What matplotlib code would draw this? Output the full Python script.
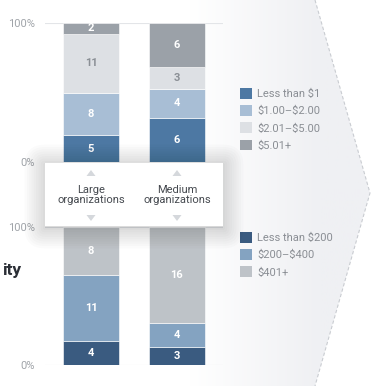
import numpy as np
import matplotlib
matplotlib.use("Agg")
import matplotlib.pyplot as plt
from matplotlib.patches import Polygon, Rectangle, FancyBboxPatch

plt.rcParams['font.family'] = ['Roboto', 'DejaVu Sans']

# data (counts per bar, drawn as 100% stacks)
groups = ['Large\norganizations', 'Medium\norganizations']
price_labels = ['Less than \\$1', '\\$1.00\u2013\\$2.00', '\\$2.01\u2013\\$5.00', '\\$5.01+']
price_large = [5, 8, 11, 2]
price_medium = [6, 4, 3, 6]
cost_labels = ['Less than \\$200', '\\$200\u2013\\$400', '\\$401+']
cost_large = [4, 11, 8]
cost_medium = [3, 4, 16]

price_colors = ['#4d78a3', '#a8bed5', '#dde0e4', '#9ba1a8']
price_text = ['white', 'white', '#8b9096', 'white']
cost_colors = ['#3a5b80', '#84a3c1', '#bec3c8']
cost_text = ['white', 'white', 'white']

W, H = 371, 386
fig = plt.figure(figsize=(W / 100, H / 100), dpi=100)
fig.patch.set_facecolor('white')

# background layer: chevron panel with gradient
bg = fig.add_axes([0, 0, 1, 1], zorder=0)
bg.set_xlim(0, W)
bg.set_ylim(H, 0)
bg.axis('off')
chev = Polygon([(150, 0), (315, 0), (370, 193), (315, 386), (150, 386)],
               closed=True, facecolor='none', edgecolor='none')
bg.add_patch(chev)
xs = np.linspace(150, 371, 200)
t = np.clip((xs - 190) / 130, 0, 1)
c0 = np.array([1.0, 1.0, 1.0])
c1 = np.array([0xef, 0xf0, 0xf3]) / 255
grad = (c0[None, :] * (1 - t[:, None]) + c1[None, :] * t[:, None])[None, :, :]
im = bg.imshow(grad, extent=[150, 371, H, 0], aspect='auto', zorder=0)
im.set_clip_path(chev)
bg.plot([315, 370, 315], [0, 193, 386], color='#c9ccd1', lw=0.8,
        ls=(0, (3, 2)), zorder=1)
bg.text(21, 270, 'ity', ha='right', va='center', fontsize=12.5,
        fontweight='bold', color='#2b2f36')

x = np.arange(len(groups))
width = 56 / 86


def stacked(ax, large, medium, colors, tcolors, labels):
    data = np.array([large, medium], dtype=float)
    pct = data / data.sum(axis=1, keepdims=True) * 100
    bottom = np.zeros(len(groups))
    handles = []
    for i in range(data.shape[1]):
        bars = ax.bar(x, pct[:, i], width, bottom=bottom, color=colors[i],
                      edgecolor='white', linewidth=0.4, label=labels[i], zorder=2)
        handles.append(bars)
        for j in range(len(groups)):
            ax.text(x[j], bottom[j] + pct[j, i] / 2, str(int(data[j, i])),
                    ha='center', va='center', fontsize=8, fontweight='bold',
                    color=tcolors[i], zorder=3)
        bottom += pct[:, i]
    ax.set_xlim(-0.535, 1.535)
    ax.set_ylim(0, 100)
    ax.set_yticks([0, 100])
    ax.set_yticklabels(['0%', '100%'])
    ax.tick_params(axis='y', length=0, pad=7, labelsize=8, labelcolor='#a0a4a9')
    ax.set_xticks([])
    for s in ax.spines.values():
        s.set_visible(False)
    ax.axhline(100, color='#e3e5e8', lw=0.8, zorder=1)
    ax.axhline(0, color='#e3e5e8', lw=0.8, zorder=1)
    ax.patch.set_alpha(0)
    return handles


ax1 = fig.add_axes([45 / W, (H - 162) / H, 178 / W, 139 / H], zorder=1)
h1 = stacked(ax1, price_large, price_medium, price_colors, price_text, price_labels)
ax2 = fig.add_axes([45 / W, (H - 365) / H, 178 / W, 138 / H], zorder=1)
h2 = stacked(ax2, cost_large, cost_medium, cost_colors, cost_text, cost_labels)

leg_kw = dict(loc='upper left', bbox_transform=fig.transFigure, frameon=False,
              fontsize=8, handlelength=1.1, handleheight=1.1, handletextpad=0.45,
              labelspacing=0.55, borderpad=0, borderaxespad=0)
leg1 = ax1.legend(handles=h1, labels=price_labels,
                  bbox_to_anchor=(240 / W, 1 - 88 / H), **leg_kw)
leg2 = ax2.legend(handles=h2, labels=cost_labels,
                  bbox_to_anchor=(240 / W, 1 - 232 / H), **leg_kw)
for leg in (leg1, leg2):
    for txt in leg.get_texts():
        txt.set_color('#8a8e94')
    for p in leg.get_patches():
        p.set_edgecolor('none')

# overlay card with group labels
top = fig.add_axes([0, 0, 1, 1], zorder=3)
top.set_xlim(0, W)
top.set_ylim(H, 0)
top.axis('off')
for k in range(9):
    g = 2 + k * 2.3
    top.add_patch(FancyBboxPatch((45 - g, 163 - g + 2), 178 + 2 * g, 63 + 2 * g,
                                 boxstyle='round,pad=0,rounding_size=%f' % g,
                                 facecolor='black', edgecolor='none', alpha=0.016))
top.add_patch(Rectangle((45, 163), 178, 63, facecolor='white', edgecolor='none'))
for cx, name in zip([91, 177], groups):
    top.add_patch(Polygon([(cx - 4.5, 176), (cx + 4.5, 176), (cx, 170)],
                          facecolor='#d5d8dc', edgecolor='none'))
    top.add_patch(Polygon([(cx - 4.5, 215), (cx + 4.5, 215), (cx, 221)],
                          facecolor='#d5d8dc', edgecolor='none'))
    top.text(cx, 195, name, ha='center', va='center', fontsize=8,
             color='#45494f', linespacing=1.1)

fig.savefig('out.png', dpi=100, facecolor=fig.get_facecolor())
